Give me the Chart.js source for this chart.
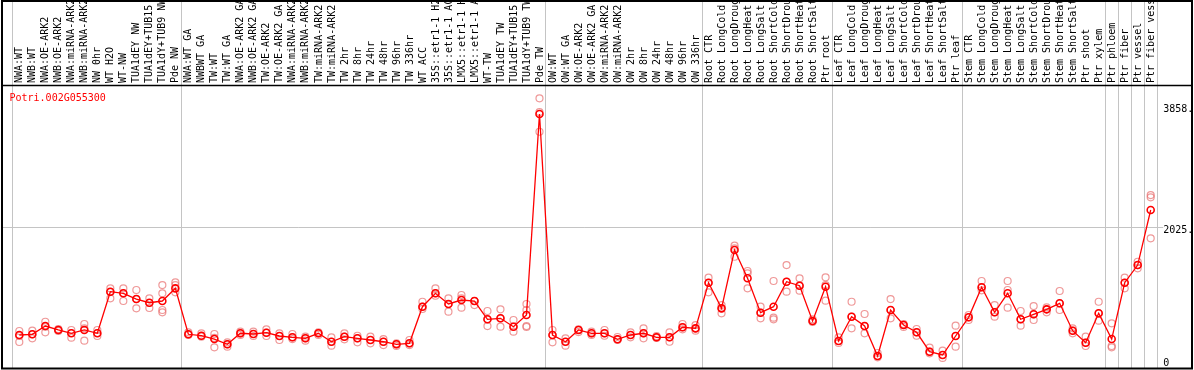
<!DOCTYPE html>
<html>
<head>
<meta charset="utf-8">
<script src="https://cdn.jsdelivr.net/npm/chart.js@4.4.1/dist/chart.umd.min.js"></script>
<style>
    html, body { margin: 0; padding: 0; background: #fff; }
    canvas { display: block; }
</style>
</head>
<body>
<canvas id="chart-area" width="1194" height="370"></canvas>
<script>
var geneName = "Potri.002G055300";

var labels = [
    "NWA:WT", "NWB:WT", "NWA:OE-ARK2", "NWB:OE-ARK2", "NWA:miRNA-ARK2", "NWB:miRNA-ARK2",
    "NW 0hr", "WT H2O", "WT-NW", "TUA1dEY NW", "TUA1dEY+TUB15 NW", "TUA1dY+TUB9 NW", "Pde NW",
    "NWA:WT GA", "NWBWT GA", "TW:WT", "TW:WT GA", "NWA:OE-ARK2 GA", "NWB:OE-ARK2 GA",
    "TW:OE-ARK2", "TW:OE-ARK2 GA", "NWA:miRNA-ARK2 GA", "NWB:miRNA-ARK2 GA", "TW:miRNA-ARK2",
    "TW:miRNA-ARK2 GA", "TW 2hr", "TW 8hr", "TW 24hr", "TW 48hr", "TW 96hr", "TW 336hr",
    "WT ACC", "35S::etr1-1 H2O", "35S::etr1-1 ACC", "LMX5::etr1-1 H2O", "LMX5::etr1-1 ACC",
    "WT-TW", "TUA1dEY TW", "TUA1dEY+TUB15 TW", "TUA1dY+TUB9 TW", "Pde TW",
    "OW:WT", "OW:WT GA", "OW:OE-ARK2", "OW:OE-ARK2 GA", "OW:miRNA-ARK2", "OW:miRNA-ARK2 GA",
    "OW 2hr", "OW 8hr", "OW 24hr", "OW 48hr", "OW 96hr", "OW 336hr",
    "Root CTR", "Root LongCold", "Root LongDrought", "Root LongHeat", "Root LongSalt",
    "Root ShortCold", "Root ShortDrought", "Root ShortHeat", "Root ShortSalt", "Ptr root",
    "Leaf CTR", "Leaf LongCold", "Leaf LongDrought", "Leaf LongHeat", "Leaf LongSalt",
    "Leaf ShortCold", "Leaf ShortDrought", "Leaf ShortHeat", "Leaf ShortSalt", "Ptr leaf",
    "Stem CTR", "Stem LongCold", "Stem LongDrought", "Stem LongHeat", "Stem LongSalt",
    "Stem ShortCold", "Stem ShortDrought", "Stem ShortHeat", "Stem ShortSalt",
    "Ptr shoot", "Ptr xylem", "Ptr phloem", "Ptr fiber", "Ptr vessel", "Ptr fiber vessel"
];

// mean expression per sample
var means = [
    403, 414, 539, 479, 429, 479, 429, 1059, 1035, 948, 892, 918, 1110,
    414, 392, 342, 262, 429, 418, 438, 388, 368, 353, 429, 301, 377, 353, 327, 301, 262, 277,
    832, 1035, 873, 933, 918, 641, 656, 529, 706, 3751,
    403, 301, 479, 429, 429, 338, 403, 429, 368, 368, 520, 504,
    1195, 807, 1691, 1262, 741, 832, 1210, 1150, 615, 1135,
    312, 680, 539, 85, 782, 554, 444, 150, 100, 388,
    671, 1126, 747, 1035, 641, 717, 792, 883, 468, 286, 732,
    342, 1195, 1463, 2297
];

// replicates
var rep1 = [
    464, 468, 604, 494, 479, 570, 479, 1110, 1110, 1085, 959, 1160, 1201,
    444, 429, 418, 292, 453, 453, 489, 429, 418, 377, 444, 368, 429, 392, 377, 342, 277, 327,
    907, 1110, 959, 1009, 918, 767, 792, 630, 873, 3989,
    479, 353, 489, 453, 479, 373, 444, 504, 388, 444, 570, 554,
    1271, 857, 1756, 1373, 832, 1221, 1463, 1262, 641, 1277,
    368, 907, 721, 130, 948, 570, 494, 211, 165, 544,
    706, 1221, 857, 1221, 767, 842, 823, 1070, 504, 377, 907,
    580, 1271, 1513, 2524
];
var rep2 = [
    388, 414, 529, 464, 433, 504, 433, 1054, 1035, 948, 888, 1035, 1160,
    403, 377, 358, 226, 403, 388, 388, 327, 342, 317, 403, 241, 338, 292, 277, 251, 236, 251,
    797, 998, 756, 959, 857, 539, 529, 453, 782, 3483,
    292, 241, 448, 403, 392, 327, 368, 353, 358, 301, 489, 468,
    1050, 732, 1716, 1338, 656, 665, 1059, 1074, 600, 1160,
    282, 504, 429, 65, 656, 524, 392, 126, 55, 226,
    630, 1080, 680, 1085, 544, 630, 747, 782, 429, 236, 620,
    236, 1110, 1413, 2489
];
var rep3 = [
    297, 353, 444, 479, 362, 317, 388, 959, 918, 807, 812, 782, 1050,
    414, 392, 217, 262, 429, 418, 438, 388, 368, 353, 429, 301, 377, 353, 327, 301, 262, 277,
    832, 1035, 873, 817, 918, 641, 656, 529, 539, 3781,
    403, 301, 479, 429, 429, 338, 403, 429, 368, 368, 520, 504,
    1195, 807, 1589, 1110, 741, 641, 1210, 1150, 615, 923,
    312, 680, 539, 85, 782, 554, 444, 150, 100, 388,
    671, 1126, 747, 817, 641, 717, 792, 883, 468, 286, 732,
    217, 1195, 1463, 1868
];
var rep4 = labels.map(function () { return null; });
rep4[11] = 747;
rep4[39] = 524;

var yTicks = [0, 2025, 3858];
var yTickLabels = ["0", "2025.", "3858."];
var yMin = -97;
var yMax = 4176;

// vertical separators sit before these samples (plus one after the last)
var groupStarts = [0, 13, 41, 53, 63, 73, 84, 85, 86, 87];

var monoFont = { family: "'DejaVu Sans Mono', monospace", size: 10 };
var repColor = "rgba(232, 110, 110, 0.7)";

function setYTicks(scale) {
    scale.ticks = yTicks.map(function (v) { return { value: v }; });
}

function noPadding(s) {
    s.paddingTop = 0;
    s.paddingBottom = 0;
    s.paddingLeft = 0;
    s.paddingRight = 0;
}

function xGridColor(c) {
    if (c.index === undefined || groupStarts.indexOf(c.index) !== -1) {
        return "#c4c4c4";
    }
    return "rgba(0,0,0,0)";
}

function yGridColor(c) {
    if (c.tick && c.tick.value === 2025) {
        return "#c4c4c4";
    }
    return "rgba(0,0,0,0)";
}

function repDataset(name, values) {
    return {
        label: name,
        data: values,
        showLine: false,
        pointRadius: 3.5,
        pointBorderWidth: 1.2,
        pointBorderColor: repColor,
        pointBackgroundColor: "rgba(0,0,0,0)",
        yAxisID: "y"
    };
}

var framePlugin = {
    id: "frame",
    afterDraw: function (chart) {
        var ctx = chart.ctx;
        ctx.save();
        ctx.strokeStyle = "#000";
        ctx.lineWidth = 2;
        ctx.strokeRect(2, 1, 1190, 367.5);
        ctx.lineWidth = 1.5;
        ctx.beginPath();
        ctx.moveTo(2, 85.5);
        ctx.lineTo(1192, 85.5);
        ctx.stroke();
        ctx.fillStyle = "#ff0000";
        ctx.font = "10px 'DejaVu Sans Mono', monospace";
        ctx.textBaseline = "alphabetic";
        ctx.fillText(geneName, 9.5, 100.5);
        ctx.restore();
    }
};

var config = {
    type: "line",
    data: {
        labels: labels,
        datasets: [
            {
                label: "mean",
                data: means,
                borderColor: "#ff0000",
                borderWidth: 1.3,
                pointRadius: 3.5,
                pointBorderWidth: 1.6,
                pointBorderColor: "#ff0000",
                pointBackgroundColor: "rgba(0,0,0,0)",
                fill: false,
                tension: 0,
                yAxisID: "y"
            },
            repDataset("rep1", rep1),
            repDataset("rep2", rep2),
            repDataset("rep3", rep3),
            repDataset("rep4", rep4)
        ]
    },
    options: {
        responsive: false,
        animation: false,
        events: [],
        layout: { autoPadding: false, padding: { left: 0, right: 0, top: 0, bottom: 2 } },
        plugins: {
            legend: { display: false },
            tooltip: { enabled: false }
        },
        scales: {
            x: {
                type: "category",
                position: "top",
                offset: true,
                grid: {
                    offset: true,
                    drawTicks: true,
                    tickLength: 86,
                    lineWidth: 1,
                    color: xGridColor
                },
                border: { display: false },
                ticks: {
                    autoSkip: false,
                    minRotation: 90,
                    maxRotation: 90,
                    padding: -83,
                    labelOffset: 12.5,
                    color: "#000",
                    font: monoFont
                },
                afterFit: function (s) { s.height = 86; noPadding(s); }
            },
            y: {
                position: "right",
                min: yMin,
                max: yMax,
                afterBuildTicks: setYTicks,
                grid: { color: yGridColor, drawTicks: true, tickLength: 6 },
                border: { display: false },
                ticks: {
                    padding: 0,
                    labelOffset: 2,
                    color: "#000",
                    font: monoFont,
                    callback: function (v, i) { return yTickLabels[i]; }
                },
                afterFit: function (s) { s.width = 36.8; noPadding(s); }
            },
            yl: {
                position: "left",
                min: yMin,
                max: yMax,
                afterBuildTicks: setYTicks,
                grid: { color: yGridColor, drawOnChartArea: false, drawTicks: true, tickLength: 11 },
                border: { display: false },
                ticks: { callback: function () { return ""; } },
                afterFit: function (s) { s.width = 12.8; noPadding(s); }
            }
        }
    },
    plugins: [framePlugin]
};

var ctx = document.getElementById("chart-area").getContext("2d");
window.myLine = new Chart(ctx, config);
</script>
</body>
</html>
